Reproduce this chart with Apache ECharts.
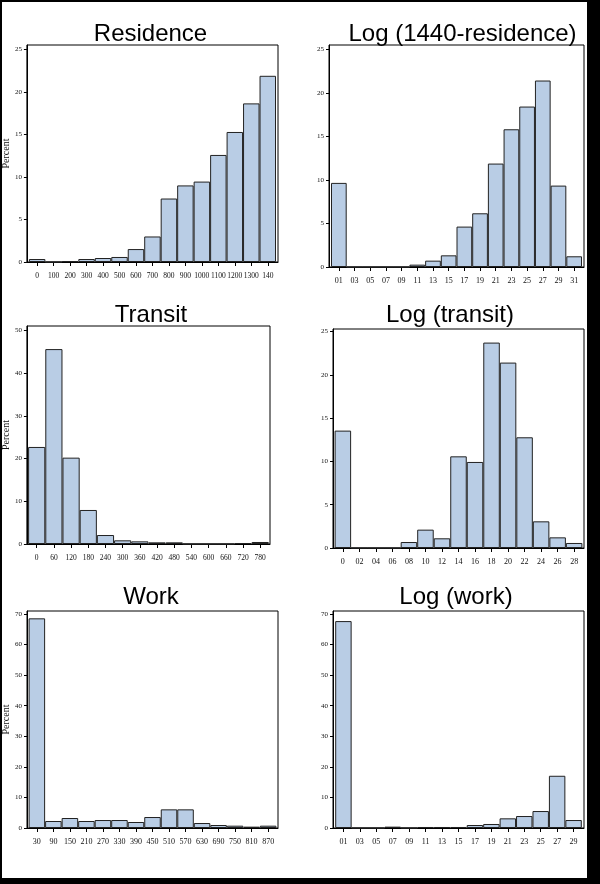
<!DOCTYPE html>
<html><head><meta charset="utf-8">
<script src="https://cdn.jsdelivr.net/npm/echarts@6/dist/echarts.min.js"></script>
<style>
html,body{margin:0;padding:0;background:#000;width:600px;height:884px;overflow:hidden}
#sheet{position:absolute;left:2px;top:2px;width:585px;height:876px;background:#fff}
#chart{position:absolute;left:0;top:0;width:600px;height:884px}
</style></head><body>
<div id="sheet"></div>
<div id="chart"></div>
<script>
// ---- data ----
const residenceLabels = ['0','100','200','300','400','500','600','700','800','900','1000','1100','1200','1300','140'];
const residenceValues = [0.35,0,0.1,0.35,0.47,0.59,1.52,3.0,7.46,9.0,9.45,12.58,15.28,18.64,21.88];

const logResidenceLabels = ['01','03','05','07','09','11','13','15','17','19','21','23','25','27','29','31'];
const logResidenceValues = [9.66,0,0,0,0,0.27,0.73,1.34,4.64,6.17,11.88,15.82,18.43,21.42,9.35,1.23];

const transitLabels = ['0','60','120','180','240','300','360','420','480','540','600','660','720','780'];
const transitValues = [22.7,45.6,20.2,7.96,2.1,0.86,0.62,0.39,0.39,0,0,0,0.23,0.47];

const logTransitLabels = ['0','02','04','06','08','10','12','14','16','18','20','22','24','26','28'];
const logTransitValues = [13.56,0,0,0,0.69,2.12,1.12,10.59,9.94,23.73,21.42,12.79,3.08,1.23,0.58];

const workLabels = ['30','90','150','210','270','330','390','450','510','570','630','690','750','810','870'];
const workValues = [68.6,2.29,3.27,2.29,2.61,2.61,1.96,3.59,6.1,6.1,1.63,0.98,0.76,0.44,0.76];

const logWorkLabels = ['01','03','05','07','09','11','13','15','17','19','21','23','25','27','29'];
const logWorkValues = [67.7,0,0,0.44,0,0.33,0.33,0.33,0.98,1.31,3.16,3.92,5.55,17.09,2.61];

const titles = ['Residence','Log (1440-residence)','Transit','Log (transit)','Work','Log (work)'];
const yTicks25 = [0,5,10,15,20,25];
const yTicks50 = [0,10,20,30,40,50];
const yTicks70 = [0,10,20,30,40,50,60,70];
const yName = 'Percent';

// ---- layout (positions only) ----
const panels = [
  {labels:residenceLabels, values:residenceValues, yMax:25.5, yTicks:yTicks25, box:[26,45,278,262], gap:2, tx:150.5, ty:34.5, name:true, fs:7.5},
  {labels:logResidenceLabels, values:logResidenceValues, yMax:25.5, yTicks:yTicks25, box:[329,45,584,267], gap:2, tx:462.5, ty:34.5, name:false, fs:8},
  {labels:transitLabels, values:transitValues, yMax:51, yTicks:yTicks50, box:[26,326,270,544], gap:1.2, tx:151, ty:315.5, name:true, fs:7.5},
  {labels:logTransitLabels, values:logTransitValues, yMax:25.3, yTicks:yTicks25, box:[333,329,584,548], gap:1.6, tx:450, ty:315.5, name:false, fs:8},
  {labels:workLabels, values:workValues, yMax:71, yTicks:yTicks70, box:[27,611,278,828], gap:1.6, tx:151, ty:597, name:true, fs:8},
  {labels:logWorkLabels, values:logWorkValues, yMax:71, yTicks:yTicks70, box:[333,611,584,828], gap:2.2, tx:456, ty:597, name:false, fs:8}
];

const grid = [], xAxis = [], yAxis = [], series = [], graphic = [];
panels.forEach((p, i) => {
  const [L, T, R, B] = p.box;
  const W = R - L, H = B - T;
  const n = p.labels.length;
  const pad = p.gap * n / (W - 2 * p.gap);
  const idx = p.labels.map((_, j) => j);
  grid.push({left:L, top:T, width:W, height:H, show:true, borderColor:'#000', borderWidth:1, backgroundColor:'transparent'});
  xAxis.push({
    type:'value', gridIndex:i, min:-0.5 - pad, max:n - 0.5 + pad,
    splitLine:{show:false},
    axisLine:{show:true, onZero:false, lineStyle:{color:'#000', width:1}},
    axisTick:{show:true, customValues:idx, length:4, lineStyle:{color:'#000'}},
    axisLabel:{customValues:idx, formatter:(v) => p.labels[Math.round(v)], fontFamily:'Liberation Serif', fontSize:p.fs, color:'#111', margin:10}
  });
  yAxis.push({
    type:'value', gridIndex:i, min:0, max:p.yMax,
    splitLine:{show:false},
    axisLine:{show:true, onZero:false, lineStyle:{color:'#000', width:1}},
    axisTick:{show:true, customValues:p.yTicks, length:3, lineStyle:{color:'#000'}},
    axisLabel:{customValues:p.yTicks, fontFamily:'Liberation Serif', fontSize:7, color:'#111', margin:5},
    name: p.name ? yName : '', nameLocation:'middle', nameRotate:90, nameGap:14,
    nameTextStyle:{fontFamily:'Liberation Serif', fontSize:10, color:'#111'}
  });
  series.push({
    type:'bar', xAxisIndex:i, yAxisIndex:i,
    data:p.values.map((v, j) => [j, v]),
    barCategoryGap:'0%', barGap:'0%',
    itemStyle:{color:'#b9cde5', borderColor:'#222', borderWidth:1},
    silent:true
  });
  graphic.push({
    type:'text', x:p.tx, y:p.ty, silent:true,
    style:{text:titles[i], fontFamily:'Liberation Sans', fontSize:24, fill:'#000', align:'center', verticalAlign:'middle'}
  });
});

const chart = echarts.init(document.getElementById('chart'), null, {renderer:'canvas'});
chart.setOption({animation:false, grid, xAxis, yAxis, series, graphic});
</script>
</body></html>
